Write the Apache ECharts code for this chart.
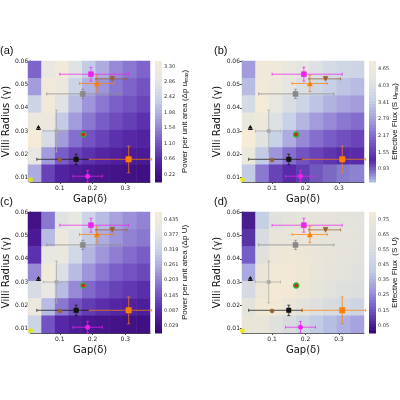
<!DOCTYPE html><html><head><meta charset="utf-8">
<script src="https://cdn.jsdelivr.net/npm/echarts@6/dist/echarts.min.js"></script>
<style>html,body{margin:0;background:#fff}#c{width:400px;height:400px}</style></head><body><div id="c"></div>
<script>
// grid cell centres
const gapCenters=[0.03,0.07,0.11,0.15,0.19,0.23,0.27,0.31,0.35];
const radiusCenters=[0.0115,0.019,0.0265,0.034,0.0415,0.049,0.0565];
// fields (normalized 0-1 of colour range), rows top (0.0565) -> bottom (0.0115)
const fieldA=[[0.35,0.85,0.95,0.8,0.65,0.55,0.45,0.4,0.35],[0.5,0.95,0.9,0.7,0.57,0.48,0.4,0.35,0.3],[0.7,0.97,0.8,0.6,0.48,0.4,0.34,0.3,0.26],[0.9,0.9,0.65,0.5,0.4,0.33,0.28,0.24,0.2],[1.0,0.75,0.5,0.38,0.3,0.25,0.2,0.17,0.15],[0.85,0.5,0.33,0.25,0.2,0.16,0.13,0.11,0.1],[0.55,0.25,0.15,0.11,0.09,0.07,0.06,0.05,0.04]];
const fieldB=[[0.5,0.95,0.95,0.9,0.85,0.8,0.75,0.72,0.7],[0.6,0.97,0.92,0.85,0.78,0.72,0.67,0.63,0.6],[0.75,0.98,0.88,0.78,0.7,0.63,0.57,0.53,0.5],[0.9,0.92,0.8,0.68,0.58,0.5,0.45,0.4,0.37],[1.0,0.82,0.68,0.55,0.45,0.38,0.33,0.29,0.26],[0.9,0.65,0.48,0.38,0.3,0.25,0.21,0.18,0.16],[0.65,0.4,0.25,0.18,0.14,0.11,0.09,0.07,0.06]];
const fieldC=[[0.05,0.4,0.8,0.85,0.7,0.6,0.52,0.47,0.43],[0.1,0.6,0.9,0.8,0.65,0.55,0.48,0.43,0.4],[0.2,0.85,0.88,0.72,0.58,0.48,0.42,0.37,0.33],[0.45,0.95,0.78,0.6,0.48,0.4,0.34,0.3,0.27],[0.75,0.85,0.6,0.45,0.36,0.3,0.25,0.22,0.19],[0.9,0.6,0.4,0.3,0.23,0.19,0.16,0.14,0.12],[0.7,0.3,0.17,0.12,0.09,0.07,0.06,0.05,0.04]];
const fieldD=[[0.05,0.55,0.8,0.85,0.87,0.87,0.86,0.85,0.84],[0.1,0.7,0.88,0.9,0.9,0.88,0.87,0.86,0.85],[0.2,0.82,0.92,0.95,0.93,0.9,0.88,0.86,0.84],[0.4,0.9,0.97,0.98,0.95,0.9,0.87,0.84,0.8],[0.65,0.93,1.0,0.98,0.93,0.88,0.83,0.78,0.74],[0.85,0.97,0.98,0.92,0.85,0.77,0.7,0.64,0.6],[0.9,0.9,0.8,0.7,0.6,0.52,0.46,0.42,0.38]];
// colourbar ticks
const ticksA=[0.22,0.66,1.10,1.54,1.98,2.42,2.86,3.30];
const ticksB=[0.93,1.55,2.17,2.79,3.41,4.03,4.65];
const ticksC=[0.029,0.087,0.145,0.203,0.261,0.319,0.377,0.435];
const ticksD=[0.05,0.15,0.25,0.35,0.45,0.55,0.65,0.75];
// measured points: [gap, radius, gapLo, gapHi, radLo, radHi]
const pointNames=['magentaSq','orangeTri','brownTriDown','graySq','blackTriOpen','grayCirc','greenRed','brownCirc','blackSq','orangeSq','magentaCirc','yellowOpen'];
const pointData=[
[0.195,0.0545,0.10,0.31,0.0515,0.0575],
[0.213,0.0505,0.16,0.265,0.047,0.054],
[0.26,0.0525,0.21,0.305,0.0525,0.0525],
[0.17,0.046,0.06,0.285,0.044,0.048],
[0.035,0.0315,0.035,0.035,0.0315,0.0315],
[0.09,0.030,0.05,0.125,0.021,0.039],
[0.172,0.0285,0.172,0.172,0.0285,0.0285],
[0.10,0.0175,0.10,0.10,0.0175,0.0175],
[0.15,0.0178,0.03,0.19,0.0155,0.020],
[0.31,0.0178,0.19,0.38,0.012,0.0235],
[0.185,0.0105,0.14,0.23,0.008,0.013],
[0.011,0.009,0.011,0.011,0.009,0.009]];
const pointStyle=[
['rect','#ee22ee',5,'#ee22ee'],['triangle','#ff8000',5,'#ff8000'],['triangle','#9a6030',5,'#9a6030',180],['rect','#888888',5,'#888888'],
['triangle','none',4,'#111'],['circle','#aaaaaa',4,'#aaaaaa'],['circle','#e02020',5,'#30b030'],['circle','#9a6030',4,'#9a6030'],
['rect','#111111',4.5,'#111'],['rect','#ff8000',5.5,'#ff8000'],['circle','#ee22ee',4.5,'#ee22ee'],['circle','none',4,'#e8e800']];

const panels=[
 {f:fieldA,max:3.45,min:0,t:ticksA,dec:2,lab:'(a)',L:28,T:61,tx:185,cb:'{a|Power per unit area (Δp u}{s|max}{a|)}',pal:0},
 {f:fieldB,max:4.95,min:0.45,t:ticksB,dec:2,lab:'(b)',L:242,T:61,tx:395,cb:'{a|Effective Flux (S u}{s|max}{a|)}',pal:1},
 {f:fieldC,max:0.465,min:0,t:ticksC,dec:3,lab:'(c)',L:28,T:212,tx:185,cb:'{a|Power per unit area (Δp U)}',pal:0},
 {f:fieldD,max:0.8,min:0,t:ticksD,dec:2,lab:'(d)',L:242,T:212,tx:395,cb:'{a|Effective Flux  (S U)}',pal:2}];
const pals=[['#3a0878','#5526a6','#7a5ec8','#a39cdc','#c6d0e6','#e6e6e2','#f5ebd6'],
            ['#a9b8e8','#5526a6','#7a5ec8','#a39cdc','#c6d0e6','#e3e5e2','#f5ebd6'],
            ['#3a0878','#6a4fc0','#9d93dd','#bfcbe6','#d7dbe0','#e2e2dc','#f4e9d4']];
const W=122,H=121;
const grid=[],xAxis=[],yAxis=[],series=[],visualMap=[],graphic=[];
panels.forEach((p,i)=>{
  const g0=grid.length;
  grid.push({left:p.L,top:p.T,width:W,height:H});
  grid.push({left:p.L,top:p.T,width:W,height:H});
  grid.push({left:p.L+127,top:p.T,width:7,height:H});
  xAxis.push({type:'category',gridIndex:g0,data:gapCenters,show:false});
  yAxis.push({type:'category',gridIndex:g0,data:radiusCenters,show:false});
  xAxis.push({type:'value',gridIndex:g0+1,min:0.01,max:0.375,interval:0.1,
    axisLabel:{customValues:[0.1,0.2,0.3],fontSize:6,color:'#222',margin:3},axisTick:{customValues:[0.1,0.2,0.3],length:2},
    splitLine:{show:false},axisLine:{lineStyle:{color:'#444'}},
    name:'Gap(δ)',nameLocation:'middle',nameGap:12,nameTextStyle:{fontSize:10,color:'#111'}});
  yAxis.push({type:'value',gridIndex:g0+1,min:0.008,max:0.0602,
    axisLabel:{customValues:[0.01,0.02,0.03,0.04,0.05,0.06],fontSize:6,color:'#222',margin:2,formatter:v=>v.toFixed(2)},
    axisTick:{customValues:[0.01,0.02,0.03,0.04,0.05,0.06],length:2},splitLine:{show:false},axisLine:{show:true,lineStyle:{color:'#444'}},
    name:'Villi Radius (γ)',nameLocation:'middle',nameGap:17,nameTextStyle:{fontSize:10,color:'#111'}});
  xAxis.push({type:'category',gridIndex:g0+2,data:[''],show:false});
  yAxis.push({type:'value',gridIndex:g0+2,position:'right',min:p.min,max:p.max,
    axisLabel:{customValues:p.t,fontSize:5,color:'#333',margin:2,formatter:v=>v.toFixed(p.dec)},
    axisTick:{customValues:p.t,inside:true,length:7,lineStyle:{color:'#666'}},axisLine:{show:false},splitLine:{show:false}});
  const hm=[];
  p.f.forEach((row,r)=>row.forEach((v,c)=>hm.push([c,6-r,p.min+v*(p.max-p.min)])));
  const si=series.length;
  series.push({type:'heatmap',xAxisIndex:g0,yAxisIndex:g0,data:hm,itemStyle:{borderWidth:0},silent:true});
  const nlev=40,cbd=[];
  for(let k=0;k<nlev;k++){const lo=p.min+(p.max-p.min)*k/nlev,hi=p.min+(p.max-p.min)*(k+1)/nlev;cbd.push([0,(lo+hi)/2,lo,hi]);}
  series.push({type:'custom',xAxisIndex:g0+2,yAxisIndex:g0+2,data:cbd,encode:{x:0,y:1},silent:true,
    renderItem:(params,api)=>{const a=api.coord([0,api.value(2)]),b=api.coord([0,api.value(3)]);
      return {type:'rect',shape:{x:params.coordSys.x,y:b[1],width:params.coordSys.width,height:a[1]-b[1]+0.5},style:{fill:api.visual('color')}};}});
  visualMap.push({show:false,seriesIndex:[si,si+1],dimension:2,min:p.min,max:p.max,inRange:{color:pals[p.pal]}});
  series.push({type:'custom',xAxisIndex:g0+1,yAxisIndex:g0+1,data:pointData,encode:{x:0,y:1},clip:false,z:5,
    renderItem:(params,api)=>{const idx=params.dataIndex,col=pointStyle[idx][3];
      const x0=api.coord([api.value(2),api.value(1)]),x1=api.coord([api.value(3),api.value(1)]);
      const y0=api.coord([api.value(0),api.value(4)]),y1=api.coord([api.value(0),api.value(5)]);
      const st={stroke:col,lineWidth:0.9,opacity:0.8};
      return {type:'group',children:[
        {type:'line',shape:{x1:x0[0],y1:x0[1],x2:x1[0],y2:x1[1]},style:st},
        {type:'line',shape:{x1:x0[0],y1:x0[1]-1.5,x2:x0[0],y2:x0[1]+1.5},style:st},
        {type:'line',shape:{x1:x1[0],y1:x1[1]-1.5,x2:x1[0],y2:x1[1]+1.5},style:st},
        {type:'line',shape:{x1:y0[0],y1:y0[1],x2:y1[0],y2:y1[1]},style:st},
        {type:'line',shape:{x1:y0[0]-1.5,y1:y0[1],x2:y0[0]+1.5,y2:y0[1]},style:st},
        {type:'line',shape:{x1:y1[0]-1.5,y1:y1[1],x2:y1[0]+1.5,y2:y1[1]},style:st}]};}});
  pointData.forEach((d,k)=>{const s=pointStyle[k];
    series.push({type:'scatter',xAxisIndex:g0+1,yAxisIndex:g0+1,z:6,clip:false,symbol:s[0],symbolSize:s[2],symbolRotate:s[4]||0,
      data:[[d[0],d[1]]],itemStyle:{color:s[1]==='none'?'rgba(0,0,0,0)':s[1],borderColor:s[3],borderWidth:s[1]==='none'?1:(k===6?1.5:0.5),opacity:1}});});
  graphic.push({type:'text',left:p.L-28,top:p.T-16,style:{text:p.lab,fontSize:11,fill:'#111'}});
  graphic.push({type:'text',x:p.tx,y:p.T+H/2,rotation:Math.PI/2,
    style:{text:p.cb,align:'center',verticalAlign:'middle',rich:{a:{fontSize:8,fill:'#111'},s:{fontSize:5,fill:'#111',verticalAlign:'bottom',padding:[4,0,0,0]}}}});
});
const ch=echarts.init(document.getElementById('c'));
ch.setOption({animation:false,grid,xAxis,yAxis,series,visualMap,graphic,textStyle:{fontFamily:'DejaVu Sans'}});
</script></body></html>
